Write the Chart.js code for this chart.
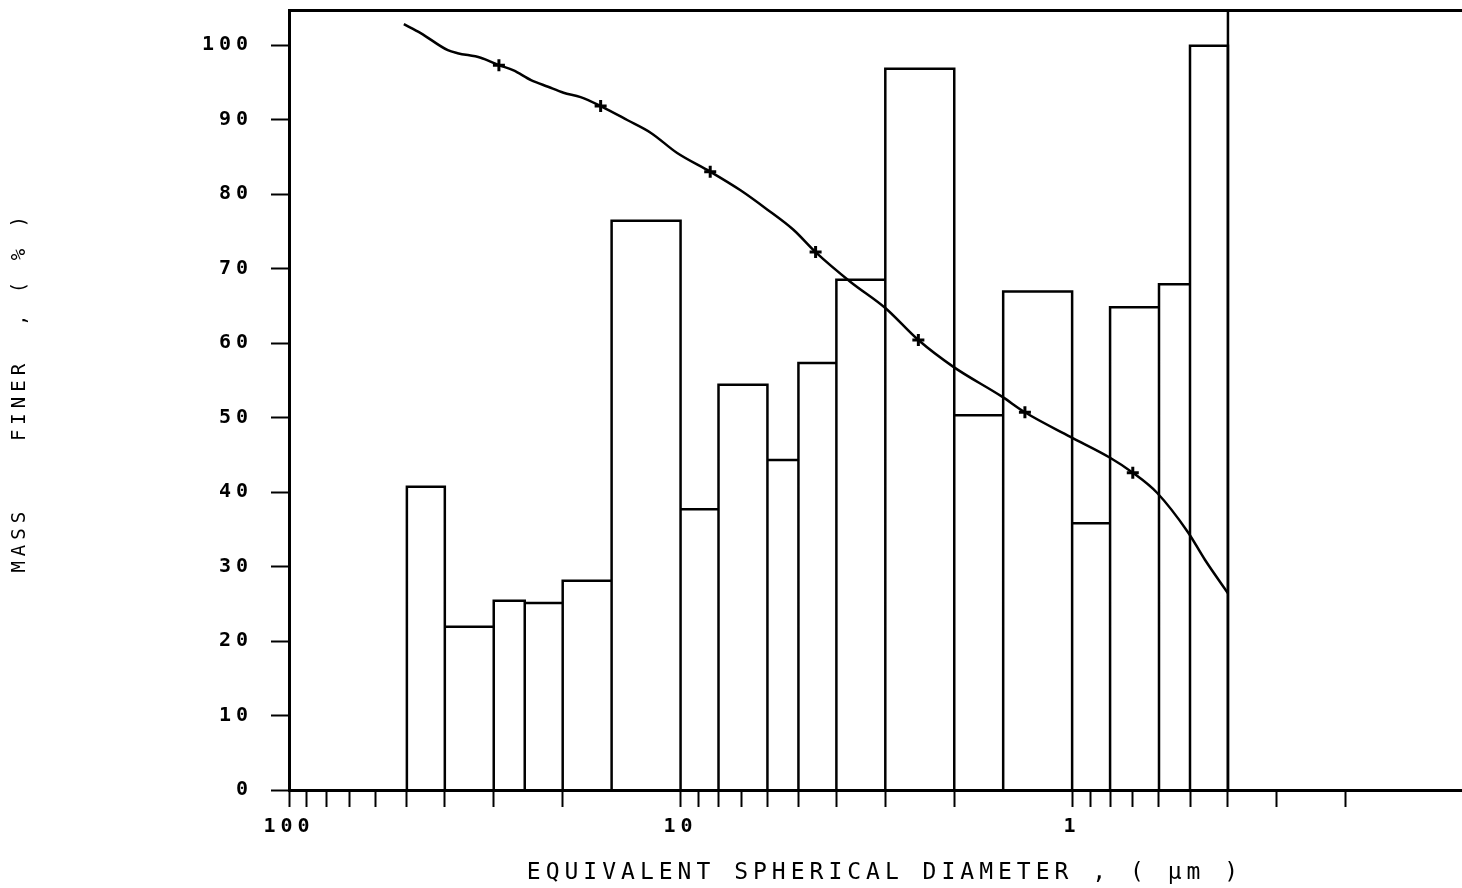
<!DOCTYPE html>
<html>
<head>
<meta charset="utf-8">
<script src="https://cdn.jsdelivr.net/npm/chart.js@4.4.1/dist/chart.umd.min.js"></script>
<style>
  body { margin: 0; background: #fff; }
  #caixa { width: 1462px; height: 888px; }
</style>
</head>
<body>
<div id="caixa"><canvas id="grafico" width="1462" height="888"></canvas></div>
<script>
// bordas das classes (diametro, um) e altura de cada barra (%)
const bordasClasse = [50, 40, 30, 25, 20, 15, 10, 8, 6, 5, 4, 3, 2, 1.5, 1, 0.8, 0.6, 0.5, 0.4]
const alturaBarra = [40.7, 21.9, 25.4, 25.1, 28.1, 76.4, 37.7, 54.4, 44.3, 57.3, 68.5, 96.8, 50.3, 66.9, 35.8, 64.8, 67.9, 99.9]

// curva acumulada (massa mais fina, %)
const curvaDiametro = [50.9, 46.1, 39.3, 37.1, 32.4, 29.1, 26.7, 24.1, 21.8, 19.9, 18.0, 16.0, 13.65, 11.9, 10.2, 8.4, 7.03, 6.0, 5.15, 4.52, 3.68, 3.0, 2.47, 2.01, 1.51, 1.32, 1.01, 0.80, 0.70, 0.607, 0.506, 0.458, 0.4]
const curvaMassa = [102.8, 101.6, 99.3, 98.9, 98.3, 97.3, 96.6, 95.3, 94.4, 93.6, 93.0, 91.8, 89.9, 88.2, 85.5, 83.0, 80.5, 77.9, 75.2, 72.2, 68.2, 64.7, 60.4, 56.8, 52.8, 50.7, 47.4, 44.6, 42.6, 39.9, 34.6, 30.9, 26.4]

// pontos marcados com +
const marcaDiametro = [29.1, 16.0, 8.4, 4.52, 2.47, 1.32, 0.70]
const marcaMassa = [97.3, 91.8, 83.0, 72.2, 60.4, 50.7, 42.6]

const ticksX = [100, 90, 80, 70, 60, 50, 40, 30, 20, 10, 9, 8, 7, 6, 5, 4, 3, 2, 1, 0.9, 0.8, 0.7, 0.6, 0.5, 0.4, 0.3, 0.2]
const rotulosX = [100, 10, 1]
const ticksY = [0, 10, 20, 30, 40, 50, 60, 70, 80, 90, 100]
const yMaximo = 104.7
const linhaDireita = 0.4

// contorno do histograma: cada barra sobe, atravessa e desce ate o eixo
var contorno = []
alturaBarra.forEach(function (h, i) {
    contorno.push({x: bordasClasse[i], y: 0})
    contorno.push({x: bordasClasse[i], y: h})
    contorno.push({x: bordasClasse[i + 1], y: h})
    contorno.push({x: bordasClasse[i + 1], y: 0})
})

var curva = curvaDiametro.map(function (d, i) { return {x: d, y: curvaMassa[i]} })
var marcas = marcaDiametro.map(function (d, i) { return {x: d, y: marcaMassa[i]} })

const espacoLetras = {
    id: 'espacoLetras',
    beforeDraw(chart) {
        chart.ctx.letterSpacing = '5px'
    }
}

// tira o espaco extra que o chart.js reserva para os rotulos
function semPadding(s) {
    s.paddingTop = 0
    s.paddingBottom = 0
    s.paddingLeft = 0
    s.paddingRight = 0
}

const fonte = 'DejaVu Sans Mono'

const config = {
    type: 'line',
    data: {
        datasets: [
            {
                data: contorno,
                borderColor: '#000',
                borderWidth: 2.5,
                pointRadius: 0,
                tension: 0,
                fill: false
            },
            {
                data: [{x: linhaDireita, y: 0}, {x: linhaDireita, y: yMaximo}],
                borderColor: '#000',
                borderWidth: 2.5,
                pointRadius: 0
            },
            {
                data: curva,
                borderColor: '#000',
                borderWidth: 2.5,
                pointRadius: 0,
                cubicInterpolationMode: 'monotone'
            },
            {
                data: marcas,
                showLine: false,
                pointStyle: 'cross',
                pointRadius: 6,
                pointBorderWidth: 3,
                pointBorderColor: '#000'
            }
        ]
    },
    options: {
        responsive: false,
        animation: false,
        layout: { autoPadding: false, padding: { left: 0, right: 0, top: 10, bottom: 0 } },
        plugins: {
            legend: { display: false },
            tooltip: { enabled: false }
        },
        scales: {
            x: {
                type: 'logarithmic',
                position: 'bottom',
                reverse: true,
                min: 0.101,
                max: 100,
                afterBuildTicks: function (s) {
                    s.ticks = ticksX.map(function (v) { return {value: v} })
                },
                afterFit: function (s) { s.height = 98; semPadding(s) },
                grid: {
                    display: true,
                    drawOnChartArea: false,
                    drawTicks: true,
                    tickLength: 17,
                    tickWidth: 2,
                    tickColor: '#000'
                },
                border: { display: true, color: '#000', width: 3 },
                ticks: {
                    autoSkip: false,
                    maxRotation: 0,
                    padding: 8,
                    color: '#000',
                    font: { family: fonte, size: 20, weight: 'bold' },
                    callback: function (v) {
                        return rotulosX.indexOf(v) >= 0 ? String(v) : ''
                    }
                },
                title: {
                    display: true,
                    text: ' EQUIVALENT SPHERICAL DIAMETER , ( µm )',
                    color: '#000',
                    font: { family: fonte, size: 23 },
                    padding: { top: 0, bottom: 1 }
                }
            },
            xTopo: {
                type: 'linear',
                position: 'top',
                afterFit: function (s) { s.height = 0; semPadding(s) },
                grid: { display: false, drawTicks: false },
                ticks: { display: false },
                border: { display: true, color: '#000', width: 3 }
            },
            y: {
                type: 'linear',
                position: 'left',
                min: 0,
                max: yMaximo,
                afterBuildTicks: function (s) {
                    s.ticks = ticksY.map(function (v) { return {value: v} })
                },
                afterFit: function (s) { s.width = 289; semPadding(s) },
                grid: {
                    display: true,
                    drawOnChartArea: false,
                    drawTicks: true,
                    tickLength: 18,
                    tickWidth: 2,
                    tickColor: '#000'
                },
                border: { display: true, color: '#000', width: 3 },
                ticks: {
                    padding: 18,
                    color: '#000',
                    font: { family: fonte, size: 20, weight: 'bold' }
                },
                title: {
                    display: true,
                    text: ' MASS    FINER  , ( % )',
                    color: '#000',
                    font: { family: fonte, size: 19 },
                    padding: { top: 9, bottom: 0 }
                }
            }
        }
    },
    plugins: [espacoLetras]
}

var meuGrafico = new Chart(document.getElementById('grafico'), config)
</script>
</body>
</html>
